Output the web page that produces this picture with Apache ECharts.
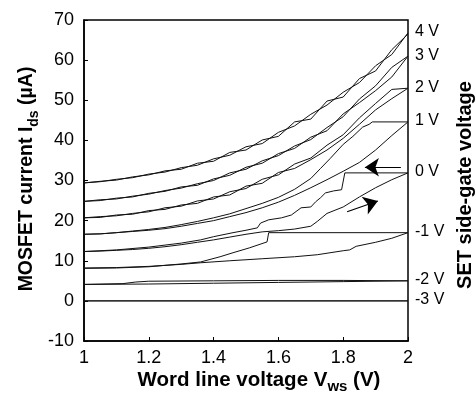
<!DOCTYPE html>
<html>
<head>
<meta charset="utf-8">
<script src="https://cdn.jsdelivr.net/npm/echarts@6/dist/echarts.min.js"></script>
<style>html,body{margin:0;padding:0;background:#fff}#c{width:475px;height:397px}</style>
</head>
<body>
<div id="c"></div>
<script>
// Word line voltage grid (V)
const vws = [1.00,1.05,1.10,1.15,1.20,1.25,1.30,1.35,1.40,1.45,1.50,1.55,1.60,1.65,1.70,1.75,1.80,1.85,1.90,1.95,2.00];
// MOSFET current (uA) on vws grid, two sweep branches per gate voltage
const i4a = [29.4,29.7,30.3,30.7,31.6,32.1,33.2,33.8,35.4,36.3,38.4,39.2,42.0,43.6,46.5,48.8,52.0,54.4,58.6,61.4,66.8];
const i4b = [29.4,29.8,30.1,30.9,31.4,32.4,32.8,34.3,34.8,37.0,37.6,40.1,41.0,44.6,45.3,49.8,50.8,55.4,57.3,62.6,66.5];
const i3a = [24.8,25.2,25.4,26.1,26.6,27.5,28.1,29.2,30.0,31.9,32.8,34.9,36.2,38.6,40.2,43.2,45.9,50.3,53.6,58.2,61.0];
const i3b = [24.8,25.0,25.6,25.9,26.8,27.3,28.4,28.8,30.4,31.3,33.3,34.3,36.7,38.0,40.8,42.4,46.6,49.4,52.4,55.8,61.0];
const i2a = [20.7,21.0,21.2,21.8,22.2,23.2,23.6,24.9,25.4,27.2,28.0,30.3,31.4,34.1,35.6,38.8,41.4,45.6,49.2,52.7,53.0];
const i2b = [20.7,20.8,21.4,21.6,22.5,22.8,23.9,24.3,25.9,26.4,28.6,29.3,32.0,33.0,35.2,37.6,40.5,44.0,47.6,50.4,53.0];
const i1up = [16.6,16.7,17.0,17.3,17.6,18.0,18.6,19.3,20.0,21.0,22.0,23.2,24.6,26.3,28.2,30.2,32.3,34.5,37.6,41.2,44.6];
// branches with steps: [Vws, Ids]
const i1down = [[2.00,44.6],[1.89,44.6],[1.88,44.0],[1.86,43.3],[1.83,41.0],[1.80,39.0],[1.76,35.5],[1.73,33.0],[1.70,30.5],[1.65,27.8],[1.60,25.8],[1.55,24.3],[1.50,23.0],[1.45,21.7],[1.40,20.7],[1.35,19.8],[1.30,19.0],[1.25,18.3],[1.20,17.8],[1.15,17.4],[1.10,17.0],[1.05,16.7],[1.00,16.6]];
const i0up = [[1.00,12.3],[1.05,12.4],[1.10,12.6],[1.15,12.8],[1.20,13.1],[1.25,13.5],[1.30,14.0],[1.35,14.6],[1.40,15.2],[1.45,15.9],[1.50,16.6],[1.55,17.2],[1.60,17.5],[1.65,17.9],[1.70,18.6],[1.72,19.8],[1.75,21.8],[1.80,23.4],[1.85,25.9],[1.90,28.2],[1.95,30.2],[2.00,31.9]];
const i0down = [[2.00,31.9],[1.805,31.9],[1.795,27.7],[1.77,27.4],[1.745,26.9],[1.73,25.7],[1.715,24.7],[1.70,23.4],[1.67,23.2],[1.64,21.4],[1.61,20.7],[1.57,20.2],[1.545,19.4],[1.535,18.2],[1.50,17.6],[1.46,17.0],[1.40,16.0],[1.36,15.2],[1.30,14.4],[1.20,13.4],[1.10,12.7],[1.00,12.3]];
const im1up = [[1.00,8.2],[1.10,8.3],[1.20,8.6],[1.30,9.1],[1.36,9.5],[1.45,10.0],[1.55,10.5],[1.65,11.0],[1.72,11.5],[1.80,12.5],[1.82,12.7],[1.84,13.6],[1.90,14.6],[1.95,15.6],[2.00,17.0]];
const im1down = [[2.00,17.0],[1.57,17.0],[1.565,14.7],[1.51,13.2],[1.46,12.0],[1.42,11.0],[1.36,9.7],[1.30,9.2],[1.20,8.5],[1.10,8.2],[1.00,8.1]];
const im2up = [[1.00,4.1],[1.20,4.2],[1.40,4.4],[1.60,4.6],[1.80,4.8],[2.00,5.0]];
const im2down = [[2.00,5.0],[1.80,5.1],[1.60,5.1],[1.40,5.0],[1.20,4.9],[1.16,4.7],[1.12,4.3],[1.00,4.1]];
const im3 = [[1.00,0.0],[2.00,0.0]];
// sweep-direction arrows [[from],[to]]
const arrows = [[[1.978,33.3],[1.867,33.3]], [[1.812,22.2],[1.907,24.9]]];
const gateLabels = ['4 V','3 V','2 V','1 V','0 V','-1 V','-2 V','-3 V'];

const grid = v => vws.map((x, i) => [x, v[i]]);
const curves = [
  [grid(i4b), grid(i4a)],
  [grid(i3b), grid(i3a)],
  [grid(i2b), grid(i2a)],
  [i1down, grid(i1up)],
  [i0down, i0up],
  [im1down, im1up],
  [im2down, im2up],
  [im3, im3]
];
const FONT = 'Liberation Sans, Arial, Helvetica, sans-serif';
const series = [];
curves.forEach((pair, k) => {
  pair.forEach((d, j) => {
    const s = {
      type: 'line', data: d, symbol: 'none', silent: true,
      lineStyle: { color: '#111', width: 1 }, z: 3
    };
    if (j === 1) {
      s.endLabel = { show: true, formatter: gateLabels[k], color: '#000',
        fontFamily: FONT, fontSize: 16, distance: 7, offset: [0, -1] };
    }
    series.push(s);
  });
});
series.push({
  type: 'lines', coordinateSystem: 'cartesian2d', silent: true,
  symbol: ['none', 'arrow'], symbolSize: [9, 14],
  lineStyle: { color: '#000', width: 1.2, opacity: 1 },
  data: arrows.map(a => ({ coords: a })), z: 4
});

const chart = echarts.init(document.getElementById('c'), null, { renderer: 'canvas' });
chart.setOption({
  animation: false,
  backgroundColor: '#fff',
  grid: { left: 84, right: 67, top: 20, bottom: 56, show: true, borderColor: '#000', borderWidth: 1.5 },
  xAxis: {
    type: 'value', min: 1, max: 2, interval: 0.2,
    axisLine: { onZero: false, lineStyle: { color: '#000', width: 1.5 } },
    axisTick: { inside: true, length: 4, lineStyle: { color: '#000' } },
    splitLine: { show: false },
    axisLabel: { color: '#000', fontSize: 18, fontFamily: FONT, margin: 8,
      formatter: v => String(Math.round(v * 10) / 10) }
  },
  yAxis: {
    type: 'value', min: -10, max: 70, interval: 10,
    axisLine: { lineStyle: { color: '#000', width: 1.5 } },
    axisTick: { inside: true, length: 4, lineStyle: { color: '#000' } },
    splitLine: { show: false },
    axisLabel: { color: '#000', fontSize: 18, fontFamily: FONT, margin: 10 }
  },
  graphic: [
    { type: 'text', x: 27, y: 179, rotation: Math.PI / 2,
      style: { text: '{b|MOSFET current I}{s|ds}{b| (µA)}', align: 'center', verticalAlign: 'middle',
        rich: { b: { fontSize: 19.5, fontWeight: 'bold', fontFamily: FONT, fill: '#000', lineHeight: 28 },
                s: { fontSize: 14, fontWeight: 'bold', fontFamily: FONT, fill: '#000', lineHeight: 14, verticalAlign: 'bottom' } } } },
    { type: 'text', x: 259, y: 380,
      style: { text: '{b|Word line voltage V}{s|ws}{b| (V)}', align: 'center', verticalAlign: 'middle',
        rich: { b: { fontSize: 20.5, fontWeight: 'bold', fontFamily: FONT, fill: '#000', lineHeight: 28 },
                s: { fontSize: 15, fontWeight: 'bold', fontFamily: FONT, fill: '#000', lineHeight: 14, verticalAlign: 'bottom' } } } },
    { type: 'text', x: 465, y: 185, rotation: Math.PI / 2,
      style: { text: 'SET side-gate voltage', align: 'center', verticalAlign: 'middle',
        fontSize: 20, fontWeight: 'bold', fontFamily: FONT, fill: '#000' } }
  ],
  series: series
});
</script>
</body>
</html>
